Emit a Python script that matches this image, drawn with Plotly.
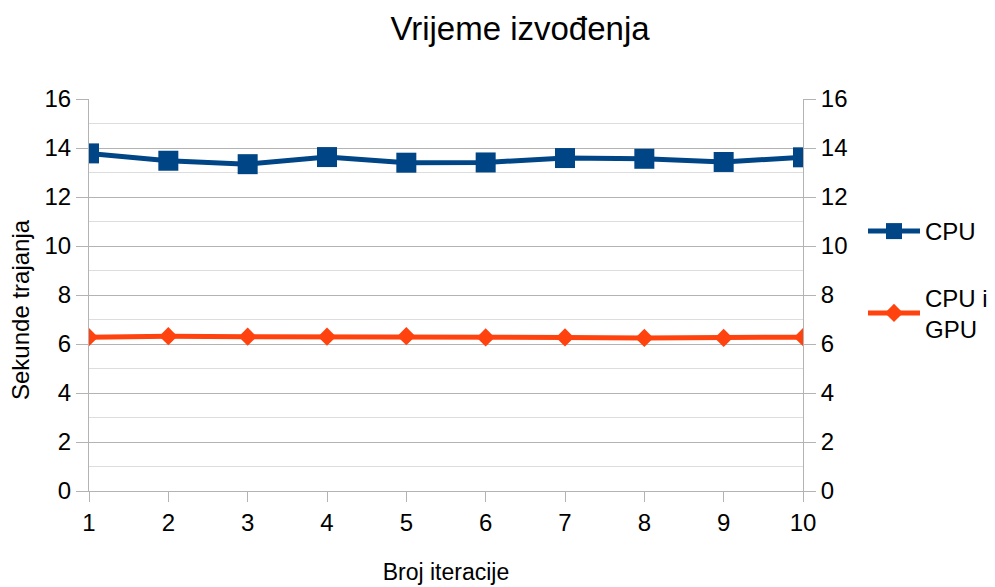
import plotly.graph_objects as go

iterations = [1, 2, 3, 4, 5, 6, 7, 8, 9, 10]
cpu = [13.78, 13.48, 13.34, 13.63, 13.40, 13.41, 13.59, 13.56, 13.43, 13.62]
cpu_gpu = [6.28, 6.32, 6.30, 6.30, 6.32, 6.27, 6.27, 6.25, 6.25, 6.28]
y_ticks = [0, 2, 4, 6, 8, 10, 12, 14, 16]

FONT = "Liberation Sans, Arial, sans-serif"
GRID = "#b3b3b3"

# the page body adds an 8px offset, so the figure is 8px smaller each way
W, H = 987, 579

fig = go.Figure()
fig.add_trace(go.Scatter(
    x=iterations, y=cpu, name="CPU", mode="lines+markers", legendgroup="a",
    line=dict(color="#004586", width=5),
    marker=dict(symbol="square", size=20, color="#004586"),
))
fig.add_trace(go.Scatter(
    x=iterations, y=cpu_gpu, name="CPU i<br>GPU", mode="lines+markers", legendgroup="b",
    line=dict(color="#ff420e", width=5),
    marker=dict(symbol="diamond", size=14, color="#ff420e"),
))
# invisible trace so the right-hand axis is drawn
fig.add_trace(go.Scatter(
    x=iterations, y=cpu, yaxis="y2", mode="lines", showlegend=False,
    hoverinfo="skip", line=dict(width=0), opacity=0,
))

axis_common = dict(
    range=[0, 16], tickvals=y_ticks, ticks="outside", ticklen=12,
    tickcolor=GRID, showline=True, linecolor=GRID, linewidth=1,
    tickfont=dict(size=24, color="black", family=FONT), zeroline=False,
    automargin=False,
)

fig.update_layout(
    width=W, height=H,
    paper_bgcolor="white", plot_bgcolor="white",
    margin=dict(l=81, r=192, t=91, b=96),
    font=dict(family=FONT, color="black"),
    title=dict(text="Vrijeme izvođenja", x=512 / W, xanchor="center",
               y=1 - 20 / H, yanchor="middle",
               font=dict(size=33, family=FONT, color="black")),
    xaxis=dict(
        range=[1, 10], tickvals=iterations, ticks="outside", ticklen=10,
        tickcolor=GRID, showline=True, linecolor=GRID, showgrid=False,
        zeroline=False, automargin=False,
        tickfont=dict(size=24, color="black", family=FONT),
        title=dict(text="Broj iteracije", font=dict(size=23, family=FONT), standoff=29),
    ),
    yaxis=dict(
        **axis_common,
        showgrid=True, gridcolor=GRID, gridwidth=1,
        minor=dict(dtick=1, tick0=0, showgrid=True, gridcolor="#dddddd", ticks=""),
    ),
    yaxis2=dict(
        **axis_common, overlaying="y", side="right", showgrid=False,
    ),
    legend=dict(
        x=855 / W, xref="container", xanchor="left",
        y=1 - 201 / H, yref="container", yanchor="top",
        font=dict(size=24, family=FONT), tracegroupgap=32,
        bgcolor="rgba(0,0,0,0)", itemwidth=52,
    ),
    showlegend=True,
    annotations=[dict(
        text="Sekunde trajanja", textangle=-90, showarrow=False,
        xref="paper", yref="paper", x=-(81 - 12) / (W - 81 - 192), xanchor="center",
        y=(483 - 302) / (483 - 91), yanchor="middle",
        font=dict(size=24, family=FONT, color="black"),
    )],
)

fig.write_html("out.html")
